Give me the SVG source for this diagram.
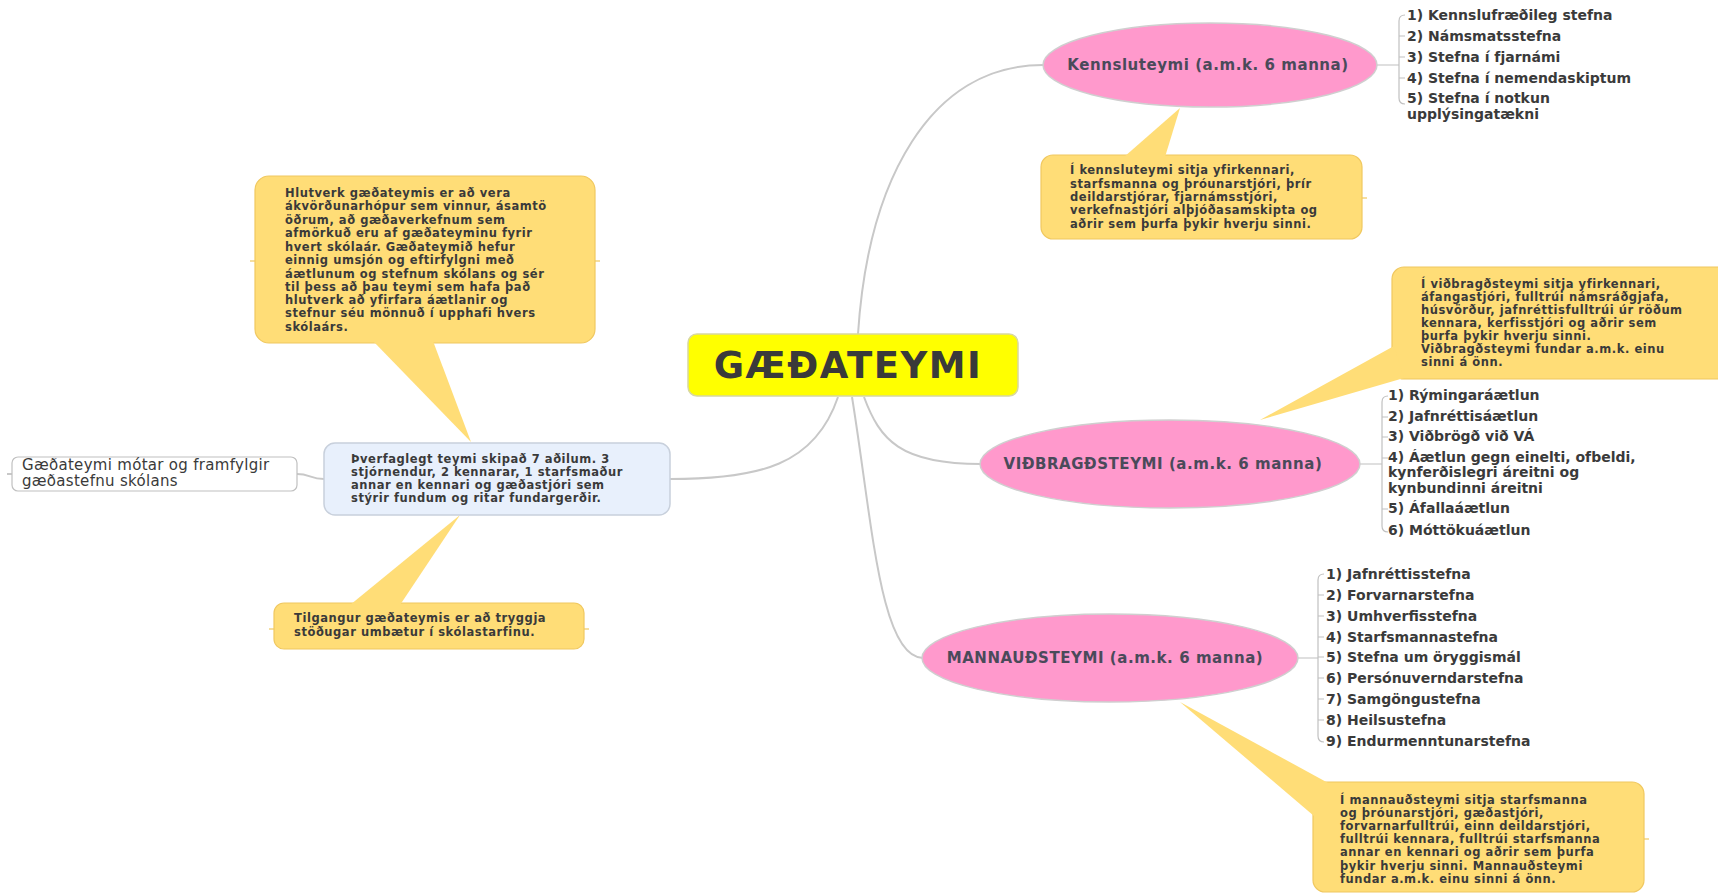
<svg xmlns="http://www.w3.org/2000/svg" width="1718" height="894" viewBox="0 0 1718 894">
<style>
.conn{fill:none;stroke:#c8c8c8;stroke-width:2}
.br{fill:none;stroke:#c0c0c0;stroke-width:1.2}
.tick{stroke:#f0c860;stroke-width:1.2}
.call{fill:#ffdd77;stroke:#f0c860;stroke-width:1.2}
.ptr{fill:#ffdd77;stroke:none}
.pink{fill:#ff99cc;stroke:#cfcfcf;stroke-width:1.5}
.t{font-family:"DejaVu Sans",Verdana,sans-serif;font-weight:bold;fill:#3a3a3a}
.c11{font-size:11.5px;letter-spacing:0.55px}
.c115{font-size:11.5px;letter-spacing:0.55px}
.lst{font-size:14px}
.el{font-size:15px;letter-spacing:0.55px;fill:#4a4a5a;text-anchor:middle}
</style>
<g id="connectors">
<path class="conn" d="M858,334 C868,180 930,65 1043,65"/>
<path class="conn" d="M864,397 C880,440 900,464 981,464"/>
<path class="conn" d="M852,397 C872,520 880,658 923,658"/>
<path class="conn" d="M838,397 C815,465 760,479 670,479"/>
<path class="conn" d="M324,479 C310,479 310,474 297,474"/>
<line class="conn" x1="12" y1="474" x2="7" y2="474" stroke-width="1"/>
<path class="br" d="M1377,65 L1399,65 M1405,15 Q1399,15 1399,21 L1399,98 Q1399,104 1405,104 M1399,36 L1405,36 M1399,57 L1405,57 M1399,78 L1405,78"/>
<path class="br" d="M1360,464 L1382,464 M1388,396 Q1382,396 1382,402 L1382,526 Q1382,532 1388,532 M1382,417 L1388,417 M1382,437 L1388,437 M1382,458 L1388,458 M1382,509 L1388,509"/>
<path class="br" d="M1298,658 L1318,658 M1324,574 Q1318,574 1318,580 L1318,736 Q1318,742 1324,742 M1318,595 L1324,595 M1318,616 L1324,616 M1318,637 L1324,637 M1318,657 L1324,657 M1318,678 L1324,678 M1318,699 L1324,699 M1318,720 L1324,720"/>
<line class="tick" x1="1362" y1="198" x2="1367" y2="198"/>
<line class="tick" x1="255" y1="261" x2="250" y2="261"/>
<line class="tick" x1="595" y1="261" x2="600" y2="261"/>
<line class="tick" x1="274" y1="629" x2="269" y2="629"/>
<line class="tick" x1="584" y1="629" x2="589" y2="629"/>
<line class="tick" x1="1644" y1="839" x2="1649" y2="839"/>
</g>
<g id="central">
<rect x="688" y="334" width="330" height="62" rx="9" fill="#ffff00" stroke="#d8d8a0" stroke-width="1.5"/>
<text class="t" x="848" y="378" font-size="37" letter-spacing="1.5" text-anchor="middle" fill="#333">GÆÐATEYMI</text>
</g>
<g id="kennsluteymi">
<ellipse class="pink" cx="1210" cy="65" rx="167" ry="42"/>
<text class="t el" x="1208" y="70">Kennsluteymi (a.m.k. 6 manna)</text>
</g>
<g id="kennsluteymi-list">
<text class="t lst" x="1407" y="20">1) Kennslufræðileg stefna</text>
<text class="t lst" x="1407" y="41">2) Námsmatsstefna</text>
<text class="t lst" x="1407" y="62">3) Stefna í fjarnámi</text>
<text class="t lst" x="1407" y="83">4) Stefna í nemendaskiptum</text>
<text class="t lst" x="1407" y="103">5) Stefna í notkun</text>
<text class="t lst" x="1407" y="119">upplýsingatækni</text>
</g>
<g id="kennsluteymi-note">
<rect class="call" x="1041" y="155" width="321" height="84" rx="12"/>
<polygon class="ptr" points="1124,157 1180,108 1165,157"/>
<text class="t c11" x="1070" y="174">Í kennsluteymi sitja yfirkennari,</text>
<text class="t c11" x="1070" y="188">starfsmanna og þróunarstjóri, þrír</text>
<text class="t c11" x="1070" y="201">deildarstjórar, fjarnámsstjóri,</text>
<text class="t c11" x="1070" y="214">verkefnastjóri alþjóðasamskipta og</text>
<text class="t c11" x="1070" y="228">aðrir sem þurfa þykir hverju sinni.</text>
</g>
<g id="vidbragdsteymi">
<ellipse class="pink" cx="1170" cy="464" rx="190" ry="44"/>
<text class="t el" x="1163" y="469">VIÐBRAGÐSTEYMI (a.m.k. 6 manna)</text>
</g>
<g id="vidbragdsteymi-list">
<text class="t lst" x="1388" y="400">1) Rýmingaráætlun</text>
<text class="t lst" x="1388" y="421">2) Jafnréttisáætlun</text>
<text class="t lst" x="1388" y="441">3) Viðbrögð við VÁ</text>
<text class="t lst" x="1388" y="462">4) Áætlun gegn einelti, ofbeldi,</text>
<text class="t lst" x="1388" y="477">kynferðislegri áreitni og</text>
<text class="t lst" x="1388" y="493">kynbundinni áreitni</text>
<text class="t lst" x="1388" y="513">5) Áfallaáætlun</text>
<text class="t lst" x="1388" y="535">6) Móttökuáætlun</text>
</g>
<g id="vidbragdsteymi-note">
<rect class="call" x="1392" y="267" width="340" height="112" rx="12"/>
<polygon class="ptr" points="1260,420 1394,346 1404,378"/>
<text class="t c11" x="1421" y="288">Í viðbragðsteymi sitja yfirkennari,</text>
<text class="t c11" x="1421" y="301">áfangastjóri, fulltrúi námsráðgjafa,</text>
<text class="t c11" x="1421" y="314">húsvörður, jafnréttisfulltrúi úr röðum</text>
<text class="t c11" x="1421" y="327">kennara, kerfisstjóri og aðrir sem</text>
<text class="t c11" x="1421" y="340">þurfa þykir hverju sinni.</text>
<text class="t c11" x="1421" y="353">Viðbragðsteymi fundar a.m.k. einu</text>
<text class="t c11" x="1421" y="366">sinni á önn.</text>
</g>
<g id="mannaudsteymi">
<ellipse class="pink" cx="1110" cy="658" rx="188" ry="44"/>
<text class="t el" x="1105" y="663">MANNAUÐSTEYMI (a.m.k. 6 manna)</text>
</g>
<g id="mannaudsteymi-list">
<text class="t lst" x="1326" y="579">1) Jafnréttisstefna</text>
<text class="t lst" x="1326" y="600">2) Forvarnarstefna</text>
<text class="t lst" x="1326" y="621">3) Umhverfisstefna</text>
<text class="t lst" x="1326" y="642">4) Starfsmannastefna</text>
<text class="t lst" x="1326" y="662">5) Stefna um öryggismál</text>
<text class="t lst" x="1326" y="683">6) Persónuverndarstefna</text>
<text class="t lst" x="1326" y="704">7) Samgöngustefna</text>
<text class="t lst" x="1326" y="725">8) Heilsustefna</text>
<text class="t lst" x="1326" y="746">9) Endurmenntunarstefna</text>
</g>
<g id="mannaudsteymi-note">
<rect class="call" x="1313" y="782" width="331" height="110" rx="12"/>
<polygon class="ptr" points="1180,702 1314,816 1330,784"/>
<text class="t c11" x="1340" y="804">Í mannauðsteymi sitja starfsmanna</text>
<text class="t c11" x="1340" y="817">og þróunarstjóri, gæðastjóri,</text>
<text class="t c11" x="1340" y="830">forvarnarfulltrúi, einn deildarstjóri,</text>
<text class="t c11" x="1340" y="843">fulltrúi kennara, fulltrúi starfsmanna</text>
<text class="t c11" x="1340" y="856">annar en kennari og aðrir sem þurfa</text>
<text class="t c11" x="1340" y="870">þykir hverju sinni. Mannauðsteymi</text>
<text class="t c11" x="1340" y="883">fundar a.m.k. einu sinni á önn.</text>
</g>
<g id="hlutverk-note">
<rect class="call" x="255" y="176" width="340" height="167" rx="14"/>
<polygon class="ptr" points="373,341 471,442 433,341"/>
<text class="t c115" x="285" y="197">Hlutverk gæðateymis er að vera</text>
<text class="t c115" x="285" y="210">ákvörðunarhópur sem vinnur, ásamtö</text>
<text class="t c115" x="285" y="224">öðrum, að gæðaverkefnum sem</text>
<text class="t c115" x="285" y="237">afmörkuð eru af gæðateyminu fyrir</text>
<text class="t c115" x="285" y="251">hvert skólaár. Gæðateymið hefur</text>
<text class="t c115" x="285" y="264">einnig umsjón og eftirfylgni með</text>
<text class="t c115" x="285" y="278">áætlunum og stefnum skólans og sér</text>
<text class="t c115" x="285" y="291">til þess að þau teymi sem hafa það</text>
<text class="t c115" x="285" y="304">hlutverk að yfirfara áætlanir og</text>
<text class="t c115" x="285" y="317">stefnur séu mönnuð í upphafi hvers</text>
<text class="t c115" x="285" y="331">skólaárs.</text>
</g>
<g id="tilgangur-note">
<rect class="call" x="274" y="603" width="310" height="46" rx="10"/>
<polygon class="ptr" points="350,605 460,515 400,605"/>
<text class="t c11" x="294" y="622">Tilgangur gæðateymis er að tryggja</text>
<text class="t c11" x="294" y="636">stöðugar umbætur í skólastarfinu.</text>
</g>
<g id="teymi">
<rect x="324" y="443" width="346" height="72" rx="11" fill="#e8f0fc" stroke="#c8d0dc" stroke-width="1.5"/>
<text class="t c11" x="351" y="463">Þverfaglegt teymi skipað 7 aðilum. 3</text>
<text class="t c11" x="351" y="476">stjórnendur, 2 kennarar, 1 starfsmaður</text>
<text class="t c11" x="351" y="489">annar en kennari og gæðastjóri sem</text>
<text class="t c11" x="351" y="502">stýrir fundum og ritar fundargerðir.</text>
</g>
<g id="gaedastefna">
<rect x="12" y="457" width="285" height="34" rx="6" fill="#fff" stroke="#c0c0c0" stroke-width="1.2"/>
<text x="22" y="470" font-family="DejaVu Sans, Verdana, sans-serif" font-size="15" letter-spacing="0.3" fill="#3a3a3a">Gæðateymi mótar og framfylgir</text>
<text x="22" y="486" font-family="DejaVu Sans, Verdana, sans-serif" font-size="15" letter-spacing="0.3" fill="#3a3a3a">gæðastefnu skólans</text>
</g>
</svg>
